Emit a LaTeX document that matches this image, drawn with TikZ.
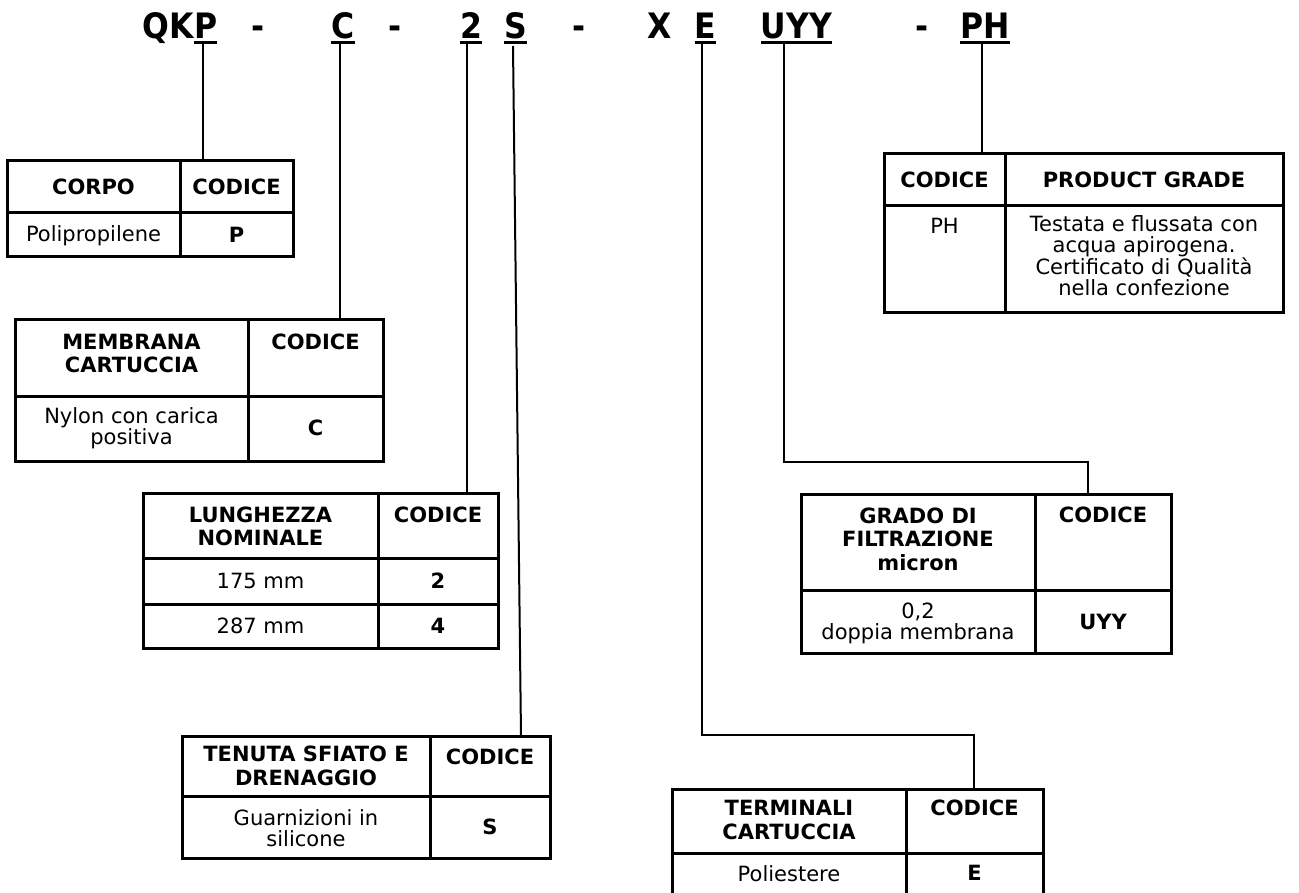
\documentclass[tikz,border=0pt]{standalone}
\usepackage{fontspec}
\setmainfont{DejaVu Sans}
\newfontfamily\tabfont{DejaVu Sans}
\newfontfamily\ttlfont{DejaVu Sans}[FakeStretch=0.9]
\begin{document}
\begin{tikzpicture}[x=1pt,y=-1pt,
 ttl/.style={font=\ttlfont\fontsize{35}{40}\selectfont\bfseries, inner sep=0pt, outer sep=0pt, anchor=base},
 hd/.style={font=\tabfont\fontsize{21}{23.5}\selectfont\bfseries, align=center, inner sep=0pt},
 tx/.style={font=\tabfont\fontsize{21}{21}\selectfont, align=center, inner sep=0pt},
 box/.style={draw, line width=3pt, inner sep=0pt, outer sep=0pt},
 div/.style={line width=3pt},
 ul/.style={line width=3pt},
 conn/.style={line width=2pt},
 elb/.style={line width=1.6pt}]
\useasboundingbox (0,0) rectangle (1299,893);
\fill[white] (0,0) rectangle (1299,893);
\clip (0,0) rectangle (1299,893);

% ---------- title code ----------
\node[ttl, anchor=base east] (tQK) at (194,39) {QK};
\node[ttl] (tP) at (205.7,39) {P};
\node[ttl] (d1) at (258.5,39) {-};
\node[ttl] (tC) at (343,39) {C};
\node[ttl] (d2) at (395,39) {-};
\node[ttl] (t2) at (471,39) {2};
\node[ttl] (tS) at (515.5,39) {S};
\node[ttl] (d3) at (579.5,39) {-};
\node[ttl] (tX) at (659.5,39) {X};
\node[ttl] (tE) at (705.5,39) {E};
\node[ttl] (tU) at (796.5,39) {UYY};
\node[ttl] (d4) at (922.5,39) {-};
\node[ttl] (tPH) at (985,39) {PH};
\foreach \n in {tP,tC,t2,tS,tE,tU,tPH}
  \draw[ul] ([yshift=-3.5pt]\n.base west) -- ([yshift=-3.5pt]\n.base east);

% ---------- CORPO ----------
\node[box, minimum width=286pt, minimum height=96pt] (corpo) at (150,209) {};
\draw[div] (180,161) -- (180,257);
\draw[div] (7,213) -- (293,213);
\node[hd] (corpoA) at (93.5,187) {CORPO};
\node[hd] (corpoB) at (236.5,187) {CODICE};
\node[tx] (corpoC) at (93.5,236) {Polipropilene};
\node[hd] (corpoD) at (236.5,235) {P};

% ---------- MEMBRANA ----------
\node[box, minimum width=368pt, minimum height=141pt] (membr) at (199,390.5) {};
\draw[div] (248,320) -- (248,461);
\draw[div] (15,396) -- (383,396);
\node[hd] (membrA) at (131.5,353.5) {MEMBRANA\\CARTUCCIA};
\node[hd] (membrB) at (315.5,342) {CODICE};
\node[tx] (membrC) at (131.5,428) {Nylon con carica\\positiva};
\node[hd] (membrD) at (315.5,428) {C};

% ---------- LUNGHEZZA ----------
\node[box, minimum width=355pt, minimum height=155pt] (lungh) at (320.5,570.5) {};
\draw[div] (378,493) -- (378,648);
\draw[div] (143,558) -- (498,558);
\draw[div] (143,604) -- (498,604);
\node[hd] (lunghA) at (260.5,526.5) {LUNGHEZZA\\NOMINALE};
\node[hd] (lunghB) at (438,515) {CODICE};
\node[tx] (lunghC) at (260.5,581) {175 mm};
\node[hd] (lunghD) at (438,581) {2};
\node[tx] (lunghE) at (260.5,626) {287 mm};
\node[hd] (lunghF) at (438,626) {4};

% ---------- TENUTA ----------
\node[box, minimum width=368pt, minimum height=122pt] (tenuta) at (366,797) {};
\draw[div] (430,736) -- (430,858);
\draw[div] (182,796) -- (550,796);
\node[hd] (tenutaA) at (306,766) {TENUTA SFIATO E\\DRENAGGIO};
\node[hd] (tenutaB) at (490,757) {CODICE};
\node[tx] (tenutaC) at (306,828) {Guarnizioni in\\silicone};
\node[hd] (tenutaD) at (490,827) {S};

% ---------- TERMINALI ----------
\node[box, minimum width=371pt, minimum height=116pt] (termin) at (857.5,847) {};
\draw[div] (906,789) -- (906,905);
\draw[div] (672,853) -- (1043,853);
\node[hd] (terminA) at (789,820) {TERMINALI\\CARTUCCIA};
\node[hd] (terminB) at (974.5,808) {CODICE};
\node[tx] (terminC) at (789,874) {Poliestere};
\node[hd] (terminD) at (974.5,873) {E};

% ---------- GRADO ----------
\node[box, minimum width=370pt, minimum height=159pt] (grado) at (986,573.5) {};
\draw[div] (1035,494) -- (1035,653);
\draw[div] (801,590) -- (1171,590);
\node[hd] (gradoA) at (918,539) {GRADO DI\\FILTRAZIONE\\micron};
\node[hd] (gradoB) at (1103,515) {CODICE};
\node[tx] (gradoC) at (918,623) {0,2\\doppia membrana};
\node[hd] (gradoD) at (1103,622) {UYY};

% ---------- PRODUCT GRADE ----------
\node[box, minimum width=399pt, minimum height=159pt] (prod) at (1083.5,233.5) {};
\draw[div] (1005,154) -- (1005,313);
\draw[div] (884,206) -- (1283,206);
\node[hd] (prodA) at (944.5,180) {CODICE};
\node[hd] (prodB) at (1144,180) {PRODUCT GRADE};
\node[tx] (prodC) at (944.5,226) {PH};
\node[tx] (prodD) at (1144,256) {Testata e flussata con\\acqua apirogena.\\Certificato di Qualità\\nella confezione};

% ---------- connectors ----------
\coordinate (cP) at (203,44);
\draw[conn] (cP) -- (cP |- corpo.north);
\coordinate (cC) at (340,44);
\draw[conn] (cC) -- (cC |- membr.north);
\coordinate (c2) at (467,44);
\draw[conn] (c2) -- (c2 |- lungh.north);
\coordinate (cS) at (513,46);
\coordinate (cSb) at (521,700);
\draw[conn] (cS) -- (cSb |- tenuta.north);
\coordinate (cE) at (702,44);
\coordinate (eE) at (974,735);
\draw[elb] (cE) |- (eE) -- (eE |- termin.north);
\coordinate (cU) at (784,44);
\coordinate (eU) at (1088,462);
\draw[elb] (cU) |- (eU) -- (eU |- grado.north);
\coordinate (cPH) at (982,44);
\draw[conn] (cPH) -- (cPH |- prod.north);
\end{tikzpicture}
\end{document}
